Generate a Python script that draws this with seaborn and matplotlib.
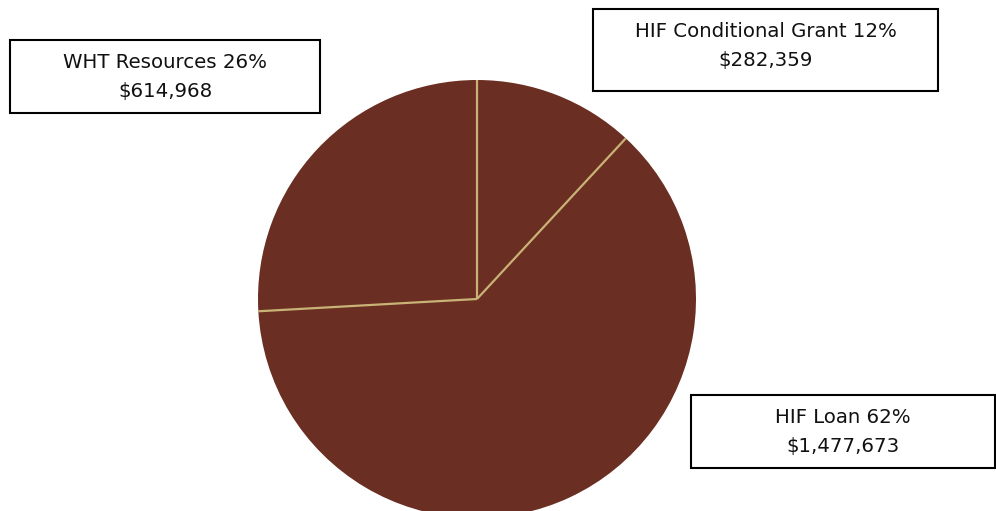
import matplotlib
matplotlib.use("Agg")
import matplotlib.pyplot as plt
from matplotlib.patches import Rectangle
import numpy as np
import seaborn as sns

# Funding sources
sources = ["HIF Conditional Grant", "HIF Loan", "WHT Resources"]
amounts = [282359, 1477673, 614968]
percent_labels = ["12%", "62%", "26%"]
amount_labels = ["$282,359", "$1,477,673", "$614,968"]

sns.set_theme(style="white")
plt.rcParams["font.family"] = ["DejaVu Sans"]

W, H = 996, 511
fig = plt.figure(figsize=(W / 100, H / 100), dpi=100)
ax = fig.add_axes([0, 0, 1, 1])

fill = "#6b2e22"
edge = "#c8b276"
center = (477, H - 299)
radius = 219
wedges, _ = ax.pie(amounts, colors=[fill] * len(amounts), startangle=90,
                   counterclock=False, center=center, radius=radius,
                   wedgeprops=dict(linewidth=0))

# Separator lines only along the radial edges of each slice
for w in wedges:
    ang = np.deg2rad(w.theta1)
    ax.plot([center[0], center[0] + radius * np.cos(ang)],
            [center[1], center[1] + radius * np.sin(ang)],
            color=edge, linewidth=1.6, solid_capstyle="butt", zorder=3)

# pie() resets the view, so fix the pixel-sized canvas afterwards
ax.set_xlim(0, W)
ax.set_ylim(0, H)
ax.set_aspect("equal")
ax.axis("off")

# Label boxes (left, top, right, bottom in pixel rows from the top)
boxes = {
    "HIF Conditional Grant": (593, 9, 938, 91),
    "HIF Loan": (691, 395, 995, 468),
    "WHT Resources": (10, 40, 320, 113),
}
for name, pct, amt in zip(sources, percent_labels, amount_labels):
    x0, y0, x1, y1 = boxes[name]
    ax.add_patch(Rectangle((x0, H - y1), x1 - x0, y1 - y0, facecolor="white",
                           edgecolor="black", linewidth=1.5, zorder=5))
    cx = (x0 + x1) / 2
    ax.text(cx, H - (y0 + 22), f"{name} {pct}", ha="center", va="center",
            fontsize=14.2, color="#111111", zorder=6)
    ax.text(cx, H - (y0 + 51), amt, ha="center", va="center",
            fontsize=14.2, color="#111111", zorder=6)

fig.savefig("out.png", dpi=100)
